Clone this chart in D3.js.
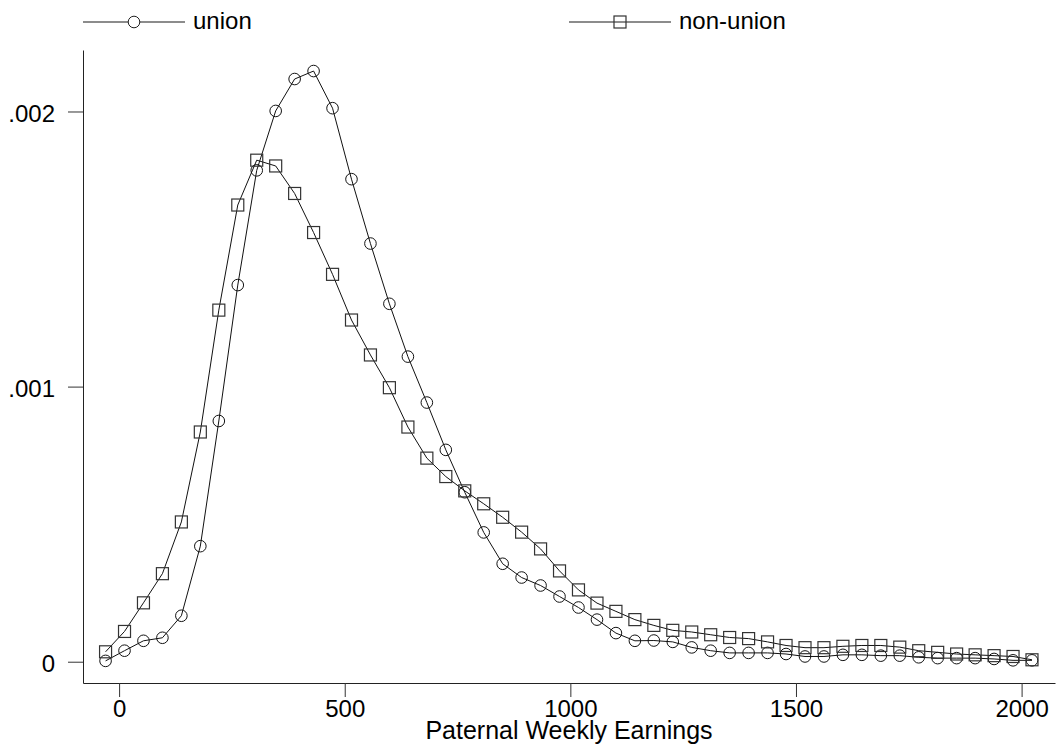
<!DOCTYPE html>
<html>
<head>
<meta charset="utf-8">
<script src="https://cdn.jsdelivr.net/npm/d3@7"></script>
<style>
  body { margin: 0; background: #fff; }
  text { font-family: "Liberation Sans", Arial, sans-serif; }
</style>
</head>
<body>
<div id="chart"></div>
<script>
"use strict"

// Weekly earnings grid the densities were evaluated on
const earnings = [-30, 12, 54, 96, 138, 180, 221, 263, 305, 347,
  389, 431, 473, 515, 557, 599, 640, 682, 724, 766,
  808, 850, 892, 934, 976, 1018, 1059, 1101, 1143, 1185,
  1227, 1269, 1311, 1353, 1395, 1437, 1478, 1520, 1562, 1604,
  1646, 1688, 1730, 1772, 1814, 1856, 1897, 1939, 1981, 2023];

// Density estimates
const unionDensity = [0.000003, 0.00004, 0.000076, 0.000087, 0.000167, 0.00042, 0.000875, 0.001369, 0.001786, 0.002002,
  0.002118, 0.002147, 0.002012, 0.001754, 0.00152, 0.001301, 0.001109, 0.000942, 0.00077, 0.000616,
  0.00047, 0.000356, 0.000306, 0.000277, 0.000237, 0.000197, 0.000153, 0.000104, 0.000076, 0.000077,
  0.000072, 0.000052, 0.00004, 0.000032, 0.000032, 0.000032, 0.000028, 0.000019, 0.000019, 0.000025,
  0.000025, 0.000022, 0.000022, 0.000016, 0.000013, 0.000013, 0.000013, 0.00001, 0.000005, 0.000005];

const nonUnionDensity = [0.000036, 0.00011, 0.000214, 0.00032, 0.000508, 0.000835, 0.001278, 0.00166, 0.001823, 0.001802,
  0.001702, 0.00156, 0.001408, 0.001242, 0.001115, 0.000996, 0.000853, 0.00074, 0.000673, 0.000621,
  0.000574, 0.000525, 0.000471, 0.00041, 0.00033, 0.000261, 0.000213, 0.000183, 0.000153, 0.000132,
  0.000114, 0.000108, 0.000098, 0.000088, 0.000084, 0.000072, 0.000059, 0.000051, 0.000051, 0.000056,
  0.000059, 0.000059, 0.000053, 0.00004, 0.000034, 0.000028, 0.000025, 0.000022, 0.000019, 0.000007];

const xTicks = [0, 500, 1000, 1500, 2000];
const yTicks = [0, 0.001, 0.002];
const seriesNames = ["union", "non-union"];

const figWidth = 1057;
const figHeight = 754;

// Plot box edges (where the axis lines sit)
const box = {left: 83, right: 1055, top: 50, bottom: 683};

const svg = d3.select("#chart").append("svg")
  .attr("width", figWidth)
  .attr("height", figHeight);

// Scales: domains stretched so the axis lines run a bit past the data
const xScale = d3.scaleLinear()
  .domain([-80, 2074])
  .range([box.left, box.right]);

const yScale = d3.scaleLinear()
  .domain([-0.0000774, 0.0022235])
  .range([box.bottom, box.top]);

const fmtY = d => d === 0 ? "0" : d3.format(".3f")(d).replace(/^0/, "");

// Axes
const xAxis = d3.axisBottom(xScale)
  .tickValues(xTicks)
  .tickFormat(d3.format("d"))
  .tickSize(14)
  .tickSizeOuter(0)
  .tickPadding(3);

const yAxis = d3.axisLeft(yScale)
  .tickValues(yTicks)
  .tickFormat(fmtY)
  .tickSize(15)
  .tickSizeOuter(0)
  .tickPadding(13);

const gx = svg.append("g")
  .attr("class", "xaxis")
  .attr("transform", `translate(0, ${box.bottom})`)
  .call(xAxis);

const gy = svg.append("g")
  .attr("class", "yaxis")
  .attr("transform", `translate(${box.left}, 0)`)
  .call(yAxis);

[gx, gy].forEach(g => {
  g.select(".domain").attr("stroke", "#222");
  g.selectAll(".tick line").attr("stroke", "#333");
  g.selectAll("text")
    .attr("font-size", 24)
    .attr("fill", "#000")
    .style("font-family", "'Liberation Sans', Arial, sans-serif");
});

gy.selectAll("text").attr("dy", "0.4em");

// X label
svg.append("text")
  .attr("x", (box.left + box.right) / 2)
  .attr("y", 739)
  .attr("text-anchor", "middle")
  .attr("font-size", 25)
  .text("Paternal Weekly Earnings");

// Lines and markers
const unionPts = earnings.map((e, i) => ({x: e, y: unionDensity[i]}));
const nonUnionPts = earnings.map((e, i) => ({x: e, y: nonUnionDensity[i]}));

const line = d3.line()
  .x(d => xScale(d.x))
  .y(d => yScale(d.y));

const plot = svg.append("g").attr("class", "plot");

plot.append("path")
  .datum(unionPts)
  .attr("fill", "none")
  .attr("stroke", "#111")
  .attr("stroke-width", 1)
  .attr("d", line);

plot.append("path")
  .datum(nonUnionPts)
  .attr("fill", "none")
  .attr("stroke", "#111")
  .attr("stroke-width", 1)
  .attr("d", line);

const r = 5.8;
const side = 12;

plot.selectAll("circle.union")
  .data(unionPts)
  .enter().append("circle")
    .attr("class", "union")
    .attr("cx", d => xScale(d.x))
    .attr("cy", d => yScale(d.y))
    .attr("r", r)
    .attr("fill", "none")
    .attr("stroke", "#111")
    .attr("stroke-width", 1);

plot.selectAll("rect.nonunion")
  .data(nonUnionPts)
  .enter().append("rect")
    .attr("class", "nonunion")
    .attr("x", d => xScale(d.x) - side / 2)
    .attr("y", d => yScale(d.y) - side / 2)
    .attr("width", side)
    .attr("height", side)
    .attr("fill", "none")
    .attr("stroke", "#333")
    .attr("stroke-width", 1.2);

// Legend across the top
const legendY = 22;
const legendItems = [
  {name: seriesNames[0], x0: 83, x1: 185, symbol: "circle"},
  {name: seriesNames[1], x0: 569, x1: 671, symbol: "square"}
];

const legend = svg.append("g").attr("class", "legend");

legendItems.forEach(item => {
  const mid = (item.x0 + item.x1) / 2;
  legend.append("line")
    .attr("x1", item.x0)
    .attr("x2", item.x1)
    .attr("y1", legendY)
    .attr("y2", legendY)
    .attr("stroke", "#666")
    .attr("stroke-width", 1.5);

  if (item.symbol == "circle") {
    legend.append("circle")
      .attr("cx", mid)
      .attr("cy", legendY)
      .attr("r", r)
      .attr("fill", "#fff")
      .attr("stroke", "#222");
  } else {
    legend.append("rect")
      .attr("x", mid - side / 2)
      .attr("y", legendY - side / 2)
      .attr("width", side)
      .attr("height", side)
      .attr("fill", "none")
      .attr("stroke", "#333")
      .attr("stroke-width", 1.2);
  }

  legend.append("text")
    .attr("x", item.x1 + 8)
    .attr("y", 28.5)
    .attr("font-size", 24)
    .text(item.name);
});
</script>
</body>
</html>
